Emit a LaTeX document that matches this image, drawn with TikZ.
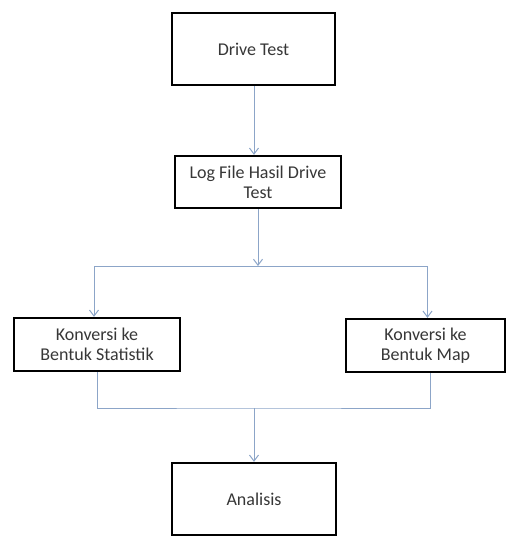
\documentclass[tikz,border=0pt]{standalone}
\usepackage{fontspec}
\setmainfont{Carlito}
\usetikzlibrary{arrows.meta}

\definecolor{garis}{RGB}{140,165,200}
\definecolor{teks}{RGB}{55,55,55}
\tikzset{
  blok/.style={draw=black, line width=2.3pt, fill=white, align=center,
    text=teks, font=\fontsize{18}{20}\selectfont, inner sep=0pt},
  alur/.style={draw=garis, line width=1pt},
  panah/.style={alur, -{Straight Barb[length=6pt,width=9pt]}}
}

\begin{document}
\begin{tikzpicture}[x=1pt,y=-1pt]
    \useasboundingbox (0,0) rectangle (507,536);

    \node[blok, minimum width=163pt, minimum height=72pt] (drive) at (253.5,49) {Drive Test};
    \node[blok, minimum width=166pt, minimum height=52pt] (log) at (258,182) {Log File Hasil Drive\\Test};
    \node[blok, minimum width=166pt, minimum height=53pt] (stat) at (97,344.5) {Konversi ke\\Bentuk Statistik};
    \node[blok, minimum width=159pt, minimum height=53pt] (map) at (425.5,345.5) {Konversi ke\\Bentuk Map};
    \node[blok, minimum width=164pt, minimum height=72pt] (anal) at (254,499) {Analisis};

    \coordinate (pisah) at (258,266);
    \coordinate (gabung) at (254,408);

    \draw[panah] (drive.south -| 254,0) -- (log.north -| 254,0);
    \draw[panah] (log.south) -- (pisah);
    \draw[panah] (pisah) -| ([xshift=-3pt]stat.north);
    \draw[panah] (pisah) -| ([xshift=2pt]map.north);
    \draw[alur] (stat.south) |- (gabung) -| ([xshift=5pt]map.south);
    \draw[panah] (gabung) -- (anal.north -| gabung);
\end{tikzpicture}
\end{document}
